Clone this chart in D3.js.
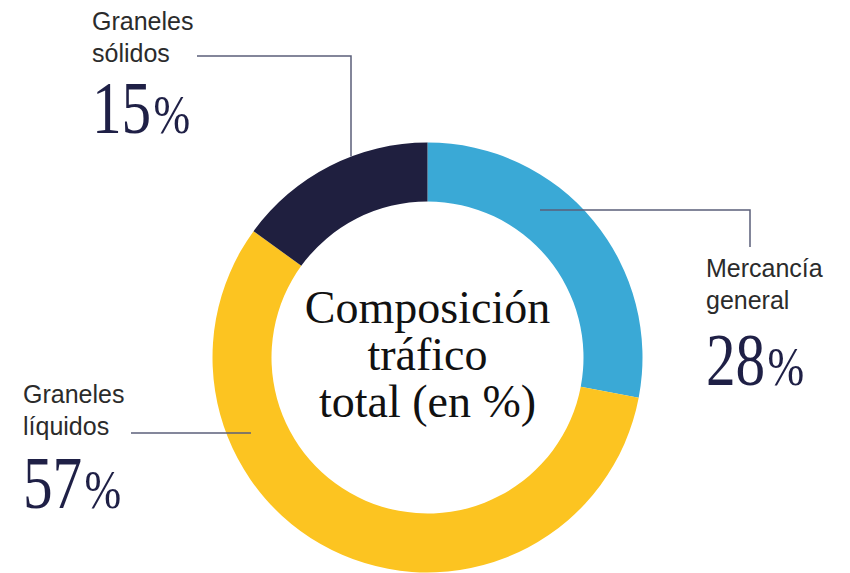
<!DOCTYPE html>
<html>
<head>
<meta charset="utf-8">
<script src="https://cdn.jsdelivr.net/npm/d3@7"></script>
<style>
  body { margin: 0; background: #fff; }
  svg { display: block; }
</style>
</head>
<body>
<svg width="850" height="573"></svg>
<script>
// data
var categories = ["Mercancía general", "Graneles líquidos", "Graneles sólidos"];
var values = [28, 57, 15];
var labelLines = [["Mercancía", "general"], ["Graneles", "líquidos"], ["Graneles", "sólidos"]];
var title = ["Composición", "tráfico", "total (en %)"];

var svg = d3.select("svg"),
    width = +svg.attr("width"),
    height = +svg.attr("height");

var cx = 427.5, cy = 357.5, outerR = 215, innerR = 156;

var color = d3.scaleOrdinal()
    .domain(categories)
    .range(["#3aa9d6", "#fcc421", "#1f1f3f"]);

var pie = d3.pie().sort(null).value(function(d, i) { return values[i]; });
var arc = d3.arc().innerRadius(innerR).outerRadius(outerR);

var slices = pie(categories);

var g = svg.append("g").attr("transform", "translate(" + cx + "," + cy + ")");

g.selectAll("path")
  .data(slices)
  .enter().append("path")
    .attr("d", arc)
    .attr("fill", function(d) { return color(d.data); });

// label layout: text position, elbow of the leader line and where it meets the ring
var layout = [
  { tx: 706, ty: 277, ny: 385, lineY: 210, elbowX: 750, endY: 247, ringR: 185.5, side: 1 },
  { tx: 23,  ty: 403, ny: 508, lineY: 433, elbowX: 131, endY: 433, ringR: 192,   side: -1 },
  { tx: 92,  ty: 30,  ny: 133, lineY: 56,  elbowX: 197, endY: 56,  ringR: 215,   side: -1, vertical: 351 }
];

var lineColor = "#5b5f7a";

layout.forEach(function(L, i) {
  var pts;
  if (L.vertical) {
    // horizontal from text, then down to the outer edge of the ring
    var dx = L.vertical - cx;
    var yEdge = cy - Math.sqrt(L.ringR * L.ringR - dx * dx);
    pts = [[L.elbowX, L.lineY], [L.vertical, L.lineY], [L.vertical, yEdge]];
  } else {
    var dy = L.lineY - cy;
    var xRing = cx + L.side * Math.sqrt(L.ringR * L.ringR - dy * dy);
    pts = [[xRing, L.lineY], [L.elbowX, L.lineY], [L.elbowX, L.endY]];
  }
  svg.append("path")
      .attr("d", d3.line()(pts))
      .attr("fill", "none")
      .attr("stroke", lineColor)
      .attr("stroke-width", 1.5);

  var t = svg.append("text")
      .attr("font-family", "Liberation Sans, Arial, sans-serif")
      .attr("font-size", "25px")
      .attr("fill", "#2b2b2b");
  labelLines[i].forEach(function(s, j) {
    t.append("tspan").attr("x", L.tx).attr("y", L.ty + j * 32).text(s);
  });

  var n = svg.append("text")
      .attr("transform", "translate(" + (L.tx) + "," + L.ny + ") scale(0.8,1)")
      .attr("font-family", "Liberation Serif, Times New Roman, serif")
      .attr("fill", "#1f2046");
  n.append("tspan").attr("font-size", "74px").text(values[i]);
  n.append("tspan").attr("font-size", "55px").attr("dx", 3).text("%");
});

svg.append("text")
    .attr("text-anchor", "middle")
    .attr("font-family", "Liberation Serif, Times New Roman, serif")
    .attr("font-size", "46px")
    .attr("fill", "#111")
  .selectAll("tspan")
  .data(title)
  .enter().append("tspan")
    .attr("x", cx)
    .attr("y", function(d, i) { return 323 + i * 47; })
    .text(function(d) { return d; });
</script>
</body>
</html>
